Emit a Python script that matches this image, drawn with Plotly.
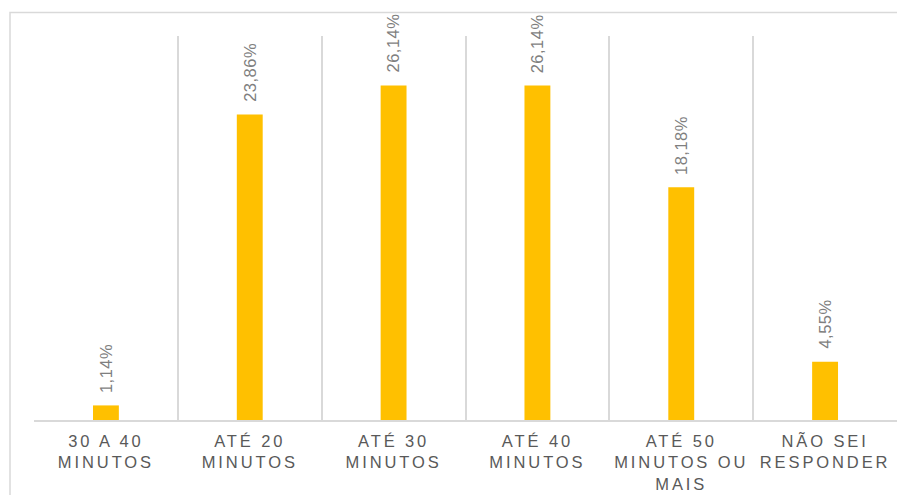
import plotly.graph_objects as go

categories = ["30 A 40<br>MINUTOS", "ATÉ 20<br>MINUTOS", "ATÉ 30<br>MINUTOS",
              "ATÉ 40<br>MINUTOS", "ATÉ 50<br>MINUTOS OU<br>MAIS", "NÃO SEI<br>RESPONDER"]
values = [1.14, 23.86, 26.14, 26.14, 18.18, 4.55]
labels = [f"{v:.2f}".replace(".", ",") + "%" for v in values]

fig = go.Figure()
fig.add_trace(go.Bar(x=categories, y=values, width=0.18,
                     marker=dict(color="#FFC000", line=dict(width=0)),
                     hoverinfo="skip"))

for c, v, t in zip(categories, values, labels):
    fig.add_annotation(x=c, y=v, text=t, textangle=-90, showarrow=False,
                       xanchor="center", yanchor="bottom", yshift=12,
                       font=dict(family="Liberation Sans, Arial, sans-serif",
                                 size=16.5, color="#7f7f7f"))

fig.add_shape(type="rect", xref="paper", yref="paper",
              x0=-0.0278, x1=1.03, y0=-0.25, y1=1.0613,
              line=dict(color="#d9d9d9", width=1.5), fillcolor="rgba(0,0,0,0)",
              layer="below")

fig.update_layout(
    width=897, height=487,
    margin=dict(l=26, r=8, t=28, b=75),
    paper_bgcolor="white", plot_bgcolor="white",
    showlegend=False,
    font=dict(family="Liberation Sans, Arial, sans-serif", color="#595959"),
    xaxis=dict(type="category", showgrid=True, tickson="boundaries",
               gridcolor="#d9d9d9", gridwidth=1.5, showline=True,
               linecolor="#d9d9d9", linewidth=2, ticks="",
               tickfont=dict(size=16.5, color="#595959"),
               ticklabelstandoff=5, fixedrange=True, automargin=False),
    yaxis=dict(range=[0, 30], visible=False, showgrid=False, fixedrange=True),
)

post = """
function sp(){
  document.querySelectorAll('.xtick text').forEach(function(t){t.style.letterSpacing='2.9px';});
  document.querySelectorAll('.annotation-text').forEach(function(t){t.style.letterSpacing='0.5px';});
}
sp(); setTimeout(sp, 50);
"""
fig.write_html("out.html", post_script=post)
